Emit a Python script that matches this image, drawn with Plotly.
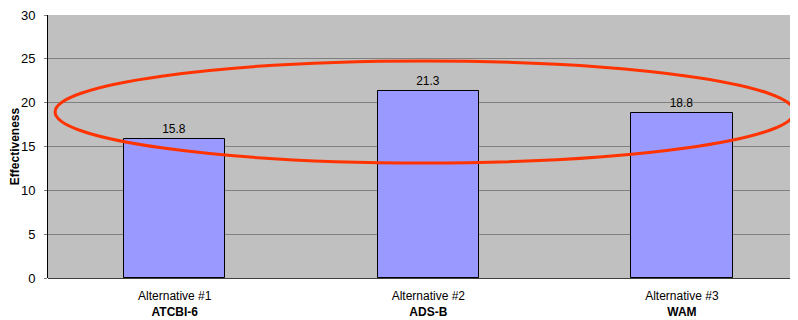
import plotly.graph_objects as go

categories = ["Alternative #1<br><b>ATCBI-6</b>", "Alternative #2<br><b>ADS-B</b>", "Alternative #3<br><b>WAM</b>"]
values = [15.8, 21.3, 18.8]
value_labels = ["15.8", "21.3", "18.8"]
y_ticks = [0, 5, 10, 15, 20, 25, 30]

FONT = "Liberation Sans, Arial, sans-serif"

fig = go.Figure()
fig.add_trace(go.Bar(
    x=[0, 1, 2], y=values, width=0.4,
    marker=dict(color="#9999FF", line=dict(color="#000000", width=1)),
    text=value_labels, textposition="outside", cliponaxis=False,
    textfont=dict(family=FONT, size=12, color="#000000"),
))

# highlight ellipse (in data coordinates)
fig.add_shape(type="circle", xref="x", yref="y",
              x0=-0.472, x1=2.443, y0=13.12, y1=24.75,
              line=dict(color="#FF3300", width=3), layer="above")

fig.update_layout(
    width=790, height=312,
    margin=dict(l=40, r=0, t=7, b=42),
    paper_bgcolor="#FFFFFF", plot_bgcolor="#C0C0C0",
    showlegend=False, bargap=0,
    font=dict(family=FONT, size=12, color="#000000"),
)
fig.update_xaxes(
    range=[-0.5, 2.458], tickvals=[0, 1, 2], ticktext=categories,
    showgrid=False, zeroline=False, showline=False,
    tickfont=dict(family=FONT, size=12, color="#000000"), ticks="",
    automargin=False, ticklabeloverflow="allow", ticklabelstandoff=9,
)
fig.update_yaxes(
    range=[0, 30], tickvals=y_ticks, showgrid=True, gridcolor="#808080", gridwidth=1,
    zeroline=True, zerolinecolor="#404040", zerolinewidth=1,
    showline=True, linecolor="#000000", linewidth=1, ticks="outside", ticklen=3,
    tickcolor="#808080", ticklabelstandoff=6, ticklabeloverflow="allow",
    tickfont=dict(family=FONT, size=13, color="#000000"),
    title=dict(text="<b>Effectiveness</b>", font=dict(family=FONT, size=12, color="#000000"), standoff=4),
    automargin=False,
)

fig.write_html("out.html")
